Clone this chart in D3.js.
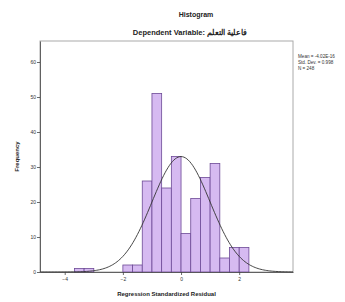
<!DOCTYPE html>
<html>
<head>
<meta charset="utf-8">
<script src="https://cdn.jsdelivr.net/npm/d3@7"></script>
<style>
  body { margin: 0; background: #fff; }
  text { font-family: "Liberation Sans", Arial, sans-serif; }
</style>
</head>
<body>
<div class="graph"></div>
<script>
// bins are 1/3 wide, start = left edge of the bin
var binStarts = [-11/3, -10/3, -2, -5/3, -4/3, -1, -2/3, -1/3, 0, 1/3, 2/3, 1, 4/3, 5/3, 2];
var counts    = [1, 1, 2, 2, 26, 51, 24, 33, 11, 21, 27, 31, 4, 7, 7];
var binWidth = 1/3;

var xTicks = [-4, -2, 0, 2];
var yTicks = [0, 10, 20, 30, 40, 50, 60];

var stats = { mean: 0, sd: 1, n: 248 };
var statLabels = ["Mean = -4.02E-16", "Std. Dev. = 0.998", "N = 248"];

var margin = {top: 41, right: 52, bottom: 30, left: 40},
    width = 345 - margin.left - margin.right,
    height = 302 - margin.top - margin.bottom;

var x = d3.scaleLinear().domain([-4.85, 3.85]).range([0, width]);
var y = d3.scaleLinear().domain([0, 66]).range([height, 0]);

var svg = d3.select(".graph").append("svg")
    .attr("width", 345)
    .attr("height", 302);

// titles
svg.append("text")
    .attr("x", 196).attr("y", 17)
    .attr("text-anchor", "middle")
    .style("font-size", "7px").style("font-weight", "bold")
    .attr("fill", "#222")
    .text("Histogram");

svg.append("text")
    .attr("x", 190).attr("y", 35)
    .attr("text-anchor", "middle")
    .style("font-size", "7.5px").style("font-weight", "bold")
    .attr("fill", "#222")
    .text("Dependent Variable: \u200Fفاعلية التعلم");

var g = svg.append("g")
    .attr("transform", "translate(" + margin.left + "," + margin.top + ")");

// frame
g.append("rect")
    .attr("width", width).attr("height", height)
    .attr("fill", "none").attr("stroke", "#aaa").attr("stroke-width", 1);

// bars
g.selectAll(".bar")
    .data(counts.map(function(c, i) { return {x0: binStarts[i], n: c}; }))
    .enter().append("rect")
    .attr("class", "bar")
    .attr("x", function(d) { return x(d.x0); })
    .attr("y", function(d) { return y(d.n); })
    .attr("width", function(d) { return x(d.x0 + binWidth) - x(d.x0); })
    .attr("height", function(d) { return y(0) - y(d.n); })
    .attr("fill", "#d6baf1")
    .attr("stroke", "#6d4a96")
    .attr("stroke-width", 0.8);

// normal curve
var curvePts = d3.range(-4.85, 3.86, 0.05).map(function(v) {
  var z = (v - stats.mean) / stats.sd;
  return [v, stats.n * binWidth * Math.exp(-z * z / 2) / (stats.sd * Math.sqrt(2 * Math.PI))];
});
g.append("path")
    .datum(curvePts)
    .attr("fill", "none")
    .attr("stroke", "#333")
    .attr("stroke-width", 0.9)
    .attr("d", d3.line()
      .x(function(d) { return x(d[0]); })
      .y(function(d) { return y(d[1]); }));

// axes
var xAxis = g.append("g")
    .attr("transform", "translate(0," + height + ")")
    .call(d3.axisBottom(x).tickValues(xTicks).tickSize(3).tickSizeOuter(0).tickPadding(2));
var yAxis = g.append("g")
    .call(d3.axisLeft(y).tickValues(yTicks).tickSize(3).tickSizeOuter(0).tickPadding(1));

[xAxis, yAxis].forEach(function(a) {
  a.select(".domain").attr("stroke", "#444").attr("stroke-width", 0.8);
  a.selectAll(".tick line").attr("stroke", "#444").attr("stroke-width", 0.8);
  a.selectAll(".tick text").style("font-size", "5px").attr("fill", "#333")
    .style("font-family", "'Liberation Sans', Arial, sans-serif");
});

// axis titles
svg.append("text")
    .attr("x", margin.left + width / 2).attr("y", 296)
    .attr("text-anchor", "middle")
    .style("font-size", "6px").style("font-weight", "bold")
    .attr("fill", "#222")
    .text("Regression Standardized Residual");

svg.append("text")
    .attr("transform", "translate(19," + (margin.top + height / 2) + ") rotate(-90)")
    .attr("text-anchor", "middle")
    .style("font-size", "6px").style("font-weight", "bold")
    .attr("fill", "#222")
    .text("Frequency");

// stats legend
svg.selectAll(".stat")
    .data(statLabels)
    .enter().append("text")
    .attr("class", "stat")
    .attr("x", 298)
    .attr("y", function(d, i) { return 58 + i * 6; })
    .style("font-size", "4.6px")
    .attr("fill", "#333")
    .text(function(d) { return d; });
</script>
</body>
</html>
